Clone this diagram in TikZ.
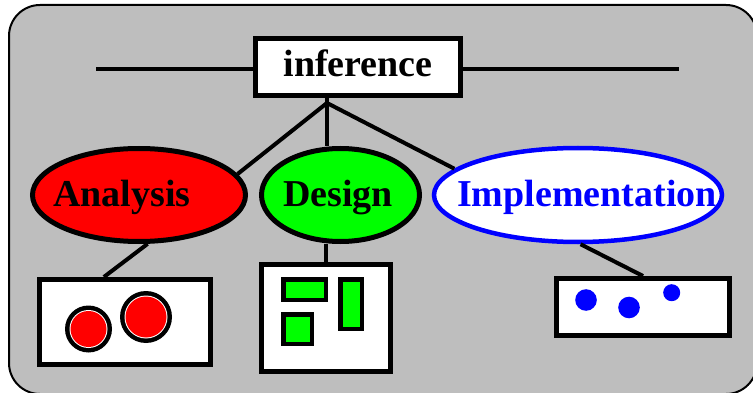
\documentclass[tikz,border=0pt]{standalone}
\usepackage{fontspec}
\setmainfont{Liberation Serif}
\usetikzlibrary{shapes.geometric,calc}
\definecolor{bggray}{RGB}{190,190,190}
\definecolor{pred}{RGB}{255,0,0}
\definecolor{pgreen}{RGB}{0,255,0}
\definecolor{pblue}{RGB}{0,0,255}
\tikzset{
  conn/.style={line width=4pt},
  whitebox/.style={draw=black, fill=white, line width=5pt, inner sep=0pt},
  oval/.style={ellipse, draw=black, line width=5pt, inner sep=0pt},
  lbl/.style={font=\fontsize{38}{40}\selectfont\bfseries, inner sep=0pt, anchor=base},
  greenrect/.style={draw=black, fill=pgreen, line width=4.5pt},
  bluedot/.style={fill=pblue},
}
\begin{document}
\begin{tikzpicture}[x=1pt,y=-1pt]
\useasboundingbox (0,0) rectangle (753,393);
\begin{scope}
\clip (0,0) rectangle (753,393);
% background panel
\draw[line width=2pt, fill=bggray, rounded corners=31pt] (9,5) rectangle (757,394);
\end{scope}

% top box
\node[whitebox, minimum width=205pt, minimum height=57pt] (inf) at (358,67) {};
\node[lbl] (inftxt) at (358,77) {inference};
\coordinate (lend) at (96,69);
\coordinate (rend) at (679,69);
\draw[conn] (lend) -- (lend -| inf.west);
\draw[conn] (inf.east |- rend) -- (rend);
\coordinate (hub) at (327,103);

% ellipses
\node[oval, fill=pred, minimum width=213pt, minimum height=93pt] (ana) at (139,195) {};
\node[oval, fill=pgreen, minimum width=158pt, minimum height=93pt] (des) at (340.5,195) {};
\node[oval, draw=pblue, fill=white, line width=4.5pt, minimum width=288pt, minimum height=94pt] (imp) at (578,195) {};

% connectors from hub
\draw[conn] (hub) -- (ana.12.5);
\draw[conn] (hub) -- (hub |- des.north);
\draw[conn] (hub) -- (imp.168.7);
\draw[conn] (inf.south -| hub) -- (hub);

\node[lbl] (anatxt) at (122,207) {Analysis};
\node[lbl] (destxt) at (338,207) {Design};
\node[lbl, text=pblue] (imptxt) at (587,207) {Implementation};

% lower boxes
\node[whitebox, minimum width=171pt, minimum height=85pt] (anabox) at (125,322) {};
\node[whitebox, minimum width=129pt, minimum height=107pt] (desbox) at (326,318) {};
\node[whitebox, minimum width=173pt, minimum height=57pt] (impbox) at (643,307) {};

\draw[conn] (ana.-80) -- ($(anabox.north west)!0.38!(anabox.north east)$);
\draw[conn] (desbox.north |- des.south) -- (desbox.north);
\draw[conn] (imp.-87) -- (impbox.north);

% analysis circles
\fill[black] (88.5,329) circle[radius=23.5];
\fill[white] (88.5,329) circle[radius=19];
\fill[pred] (88.5,329) circle[radius=18];
\fill[black] (146,317) circle[radius=26];
\fill[white] (146,317) circle[radius=21.5];
\fill[pred] (146,317) circle[radius=20.5];

% design rectangles
\draw[greenrect] (283.25,279.25) rectangle (325.75,299.75);
\draw[greenrect] (340.25,279.25) rectangle (361.75,328.75);
\draw[greenrect] (283.25,314.25) rectangle (311.75,343.75);

% implementation dots
\fill[bluedot] (586,300) circle[radius=10.8];
\fill[bluedot] (629,307.5) circle[radius=10.8];
\fill[bluedot] (671.7,292.7) circle[radius=8.5];
\end{tikzpicture}
\end{document}
